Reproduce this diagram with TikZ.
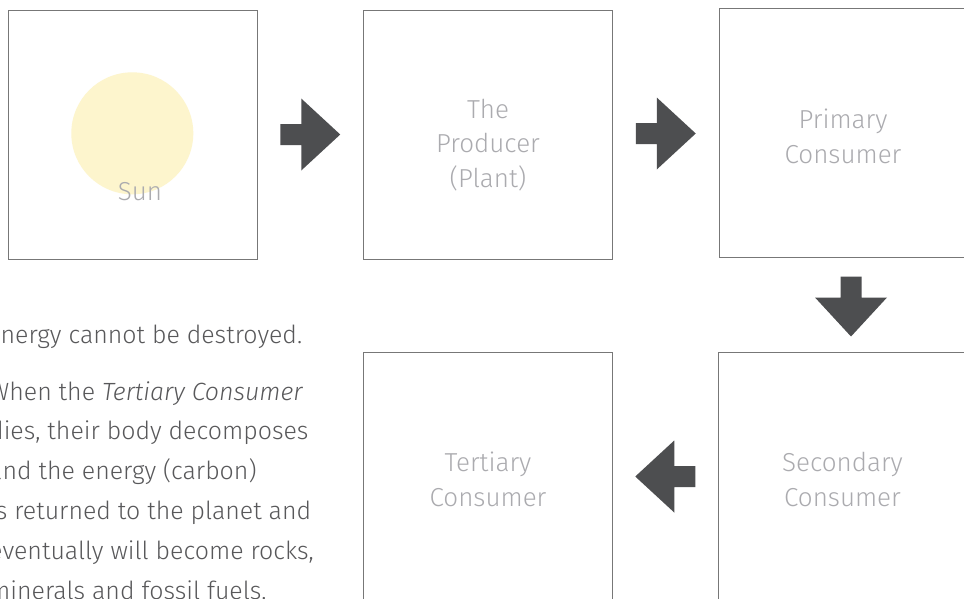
\documentclass[tikz,border=0pt]{standalone}
\usepackage{fontspec}
\IfFontExistsTF{Fira Sans Light}{%
  \setmainfont{Fira Sans Light}[ItalicFont={Fira Sans Light Italic}]%
}{%
  \IfFontExistsTF{Lato Light}{%
    \setmainfont{Lato Light}[ItalicFont={Lato Light Italic}]%
  }{%
    \setmainfont{Fira Sans}%
  }%
}
\usetikzlibrary{calc}
\definecolor{boxc}{HTML}{777777}
\definecolor{lblc}{HTML}{ABABAF}
\definecolor{parac}{HTML}{58585A}
\definecolor{arrowc}{HTML}{4D4E50}
\definecolor{sunc}{HTML}{FDF5CD}
\begin{document}
\begin{tikzpicture}[x=1pt,y=-1pt,
  box/.style={draw=boxc, line width=0.9pt, minimum width=249pt, minimum height=249pt, inner sep=0pt},
  lbl/.style={text=lblc, font=\fontsize{26}{34.5}\selectfont, align=center, anchor=base, inner sep=0pt},
  para/.style={text=parac, font=\fontsize{24.9}{39.8}\selectfont, align=left, anchor=base west, inner sep=0pt},
  blockarrow/.pic={\fill[arrowc] (-30,-10.5) -- (-9,-10.5) -- (-9,-36) -- (30,0) -- (-9,36) -- (-9,10.5) -- (-30,10.5) -- cycle;}]
\useasboundingbox (0,0) rectangle (964,598);
\clip (0,0) rectangle (964,598);
\fill[white] (0,0) rectangle (964,598);
% boxes
\node[box] (sun)  at (132.5,134.5) {};
\node[box] (prod) at (488,134.5) {};
\node[box] (prim) at (843.5,132.5) {};
\node[box] (tert) at (488,476.5) {};
\node[box] (sec)  at (842.5,476.5) {};
% sun disc
\node[circle, fill=sunc, minimum size=122pt, inner sep=0pt] (disc) at (132.3,133.3) {};
% labels (anchor = baseline of the last line)
\node[lbl] (sunlbl)  at (140,200) {Sun};
\node[lbl] (prodlbl) at (488,187) {The\\Producer\\(Plant)};
\node[lbl] (primlbl) at (843,163) {Primary\\Consumer};
\node[lbl] (tertlbl) at (488,506) {Tertiary\\Consumer};
\node[lbl] (seclbl)  at (842.5,506) {Secondary\\Consumer};
% arrows
\pic at ($(sun.east)!0.5!(prod.west)$) {blockarrow};
\pic at ($(prod.east)!0.5!(prim.west)$) {blockarrow};
\pic[rotate=-90] at ($(prim.south)!0.5!(sec.north)+(8,2)$) {blockarrow};
\pic[rotate=180] at ($(sec.west)!0.5!(tert.east)$) {blockarrow};
% text
\node[para] (p1) at (-12,343) {Energy cannot be destroyed.};
\node[para] (p2) at (-11,599) {When the \textit{Tertiary Consumer}\\dies, their body decomposes\\and the energy (carbon)\\is returned to the planet and\\eventually will become rocks,\\minerals and fossil fuels.};
\end{tikzpicture}
\end{document}
